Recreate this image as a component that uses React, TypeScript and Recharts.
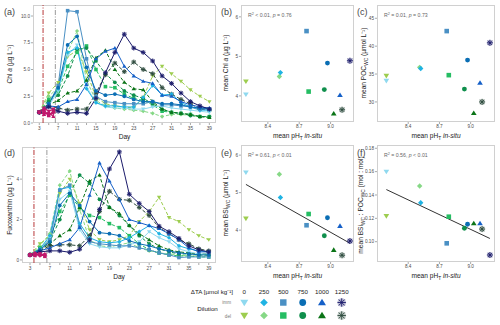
import React from 'react';
import { LineChart, Line, XAxis, YAxis, ScatterChart, Scatter, ReferenceLine } from 'recharts';

const FONT = '"Liberation Sans", Arial, Helvetica, sans-serif';
const TICK_FILL = '#4d4d4d';
const TITLE_FILL = '#1a1a1a';
const MAGENTA = '#c0186c';
const TICK_FONT = 4.7;

// Sampling days of the experiment and the labelled ticks
const DAYS = [3, 5, 7, 9, 11, 13, 15, 17, 19, 21, 23, 25, 27, 29, 31, 33, 35, 37, 39];
const DAY_TICKS = DAYS;
const PRE_DAYS = [3, 4, 5, 6];
const ALK_DAY = 3.8;
const DILUTION_DAY = 6.4;

// Treatment levels, colours and symbols
const TA_LEVELS = ['0', '250', '500', '750', '1000', '1250'];
const COL_IMM = ['#8fd9ef', '#1fb3e3', '#4a90c4', '#0a6eb4', '#1560c8', '#1b1b6b'];
const COL_DEL = ['#9dcd4f', '#86d886', '#25bd63', '#0f8f4c', '#0b7417', '#2b4a3c'];
type Kind = 'triDown' | 'diamond' | 'square' | 'circle' | 'triUp' | 'star';
const SHAPES: Kind[] = ['triDown', 'diamond', 'square', 'circle', 'triUp', 'star'];

// Chl a (µg L-1), immediate dilution
const chlImm0 = [1.0, 1.6, 3.0, 6.3, 7.3, 3.4, 1.9, 1.5, 1.4, 1.4, 1.3, 1.3, 1.5, 1.6, 1.4, 1.3, 1.2, 1.1, 1.0];
const chlImm250 = [1.0, 1.8, 3.2, 6.6, 7.0, 3.2, 1.9, 1.6, 1.6, 1.5, 1.5, 2.4, 3.5, 2.6, 2.7, 1.9, 1.5, 1.2, 1.2];
const chlImm500 = [1.0, 1.8, 3.5, 10.5, 10.4, 6.0, 2.5, 2.0, 1.9, 1.8, 1.8, 1.8, 2.0, 1.7, 1.7, 1.6, 1.5, 1.3, 1.3];
const chlImm750 = [1.0, 1.8, 3.3, 7.3, 8.1, 5.2, 3.0, 2.6, 2.7, 2.5, 2.2, 2.0, 2.0, 1.8, 1.8, 1.7, 1.5, 1.4, 1.3];
const chlImm1000 = [1.0, 1.6, 1.5, 2.0, 2.2, 3.6, 6.0, 6.7, 7.0, 5.3, 4.4, 3.9, 3.7, 2.6, 2.5, 2.0, 1.7, 1.5, 1.4];
const chlImm1250 = [1.0, 1.5, 1.1, 0.9, 1.0, 0.9, 2.3, 4.7, 6.6, 8.3, 7.0, 6.6, 5.8, 4.4, 3.7, 2.8, 2.0, 1.6, 1.3];
// Chl a (µg L-1), delayed dilution
const chlDel0 = [1.0, 2.8, 3.8, 6.2, 6.8, 4.8, 2.4, 1.8, 1.6, 1.5, 1.4, 2.4, 4.4, 5.3, 4.6, 3.9, 3.1, 2.5, 2.0];
const chlDel250 = [1.0, 2.5, 3.3, 6.6, 8.6, 4.0, 2.1, 1.6, 1.4, 1.3, 1.2, 1.1, 0.9, 0.6, 0.8, 0.8, 0.7, 0.6, 0.6];
const chlDel500 = [1.0, 2.2, 3.0, 5.3, 6.6, 7.2, 5.0, 3.4, 3.3, 2.7, 2.3, 2.1, 1.7, 1.1, 1.0, 0.9, 0.8, 0.6, 0.6];
const chlDel750 = [1.0, 2.0, 2.6, 4.4, 6.9, 7.0, 5.8, 4.6, 3.8, 3.0, 2.6, 2.3, 1.8, 1.3, 1.0, 0.9, 0.7, 0.6, 0.6];
const chlDel1000 = [1.0, 1.7, 2.1, 2.8, 3.0, 4.0, 6.1, 6.8, 5.0, 3.8, 3.2, 3.1, 2.0, 1.3, 1.0, 0.9, 0.8, 0.6, 0.5];
const chlDel1250 = [1.0, 1.6, 1.4, 1.2, 1.3, 1.3, 2.8, 4.5, 5.6, 4.8, 5.7, 5.0, 4.6, 3.3, 2.7, 2.2, 1.8, 1.3, 1.2];
// Chl a before dilution
const chlPre1 = [1.0, 0.9, 0.8, 0.9];
const chlPre2 = [1.0, 1.2, 0.7, 1.1];
const chlPre3 = [1.0, 0.8, 1.0, 0.6];
const chlPre4 = [1.0, 1.4, 1.1, 1.3];

// Fucoxanthin (µg L-1), immediate dilution
const fucoImm0 = [0.25, 0.5, 1.1, 3.0, 3.4, 1.5, 0.8, 0.65, 0.6, 0.6, 0.75, 0.9, 1.4, 1.1, 0.9, 0.55, 0.4, 0.3, 0.3];
const fucoImm250 = [0.25, 0.55, 1.2, 3.5, 3.6, 1.8, 1.1, 0.9, 0.85, 0.9, 1.1, 1.4, 1.7, 1.3, 1.1, 0.7, 0.55, 0.45, 0.4];
const fucoImm500 = [0.25, 0.5, 1.0, 3.45, 3.7, 1.65, 0.9, 0.8, 0.75, 0.7, 0.7, 0.6, 0.5, 0.35, 0.25, 0.12, 0.15, 0.15, 0.15];
const fucoImm750 = [0.25, 0.5, 0.9, 2.7, 3.3, 2.7, 1.9, 1.35, 1.3, 1.2, 0.95, 0.8, 0.7, 0.55, 0.45, 0.35, 0.3, 0.25, 0.25];
const fucoImm1000 = [0.25, 0.45, 0.6, 0.8, 1.0, 1.6, 3.2, 4.8, 3.9, 3.0, 2.0, 1.85, 1.7, 1.55, 1.3, 1.0, 0.6, 0.4, 0.4];
const fucoImm1250 = [0.25, 0.4, 0.45, 0.45, 0.38, 0.53, 1.0, 2.5, 4.5, 5.35, 3.25, 2.8, 2.4, 1.67, 1.4, 1.07, 0.7, 0.5, 0.4];
// Fucoxanthin (µg L-1), delayed dilution
const fucoDel0 = [0.25, 0.8, 1.2, 3.3, 4.0, 2.8, 1.5, 1.0, 0.9, 1.0, 1.2, 1.9, 2.4, 3.1, 2.1, 1.9, 1.5, 1.2, 1.0];
const fucoDel250 = [0.25, 0.7, 1.3, 3.7, 4.4, 2.5, 1.0, 0.7, 0.65, 0.75, 0.85, 0.6, 0.45, 0.35, 0.3, 0.25, 0.2, 0.2, 0.2];
const fucoDel500 = [0.25, 0.6, 1.0, 2.4, 3.2, 2.6, 2.2, 2.1, 1.8, 1.6, 1.2, 0.8, 0.5, 0.35, 0.25, 0.2, 0.2, 0.15, 0.15];
const fucoDel750 = [0.25, 0.55, 0.9, 2.0, 3.3, 4.2, 3.8, 3.0, 2.6, 2.2, 1.7, 1.2, 0.8, 0.55, 0.4, 0.3, 0.3, 0.25, 0.25];
const fucoDel1000 = [0.25, 0.5, 0.8, 1.2, 1.5, 2.6, 3.9, 4.2, 2.6, 2.3, 1.7, 1.3, 1.0, 0.7, 0.5, 0.4, 0.35, 0.3, 0.3];
const fucoDel1250 = [0.25, 0.45, 0.7, 0.75, 0.75, 0.7, 1.2, 2.4, 3.4, 3.0, 2.95, 2.6, 2.2, 1.6, 1.3, 1.0, 0.8, 0.55, 0.45];
// Fucoxanthin before dilution
const fucoPre1 = [0.25, 0.3, 0.2, 0.25];
const fucoPre2 = [0.25, 0.22, 0.3, 0.18];
const fucoPre3 = [0.25, 0.35, 0.25, 0.3];

// Treatment means (order: 0, 250, 500, 750, 1000, 1250 µmol kg-1)
const PH_IMM = [8.19, 8.52, 8.77, 8.97, 9.09, 9.185];
const PH_DEL = [8.19, 8.51, 8.79, 8.94, 9.03, 9.11];
const CHL_IMM = [4.04, 4.59, 5.64, 4.83, 4.02, 4.89];
const CHL_DEL = [4.37, 4.49, 4.11, 4.16, 3.55, 3.65];
const POC_IMM = [33.8, 36.0, 42.7, 37.5, 33.4, 40.6];
const POC_DEL = [34.7, 36.2, 34.8, 32.3, 28.0, 30.0];
const BSI_IMM = [5.54, 4.87, 4.13, 4.33, 4.11, 3.71];
const BSI_DEL = [4.31, 5.49, 4.43, 3.85, 3.47, 3.33];
const RATIO_IMM = [0.16, 0.1334, 0.0986, 0.1149, 0.1157, 0.0886];
const RATIO_DEL = [0.122, 0.1477, 0.1214, 0.1115, 0.1157, 0.1108];
const PH_TICKS = [8.4, 8.7, 9.0];

type Box = { x: number; y: number; w: number; h: number };
const BOX_A: Box = { x: 33, y: 5, w: 183, h: 118 };
const BOX_B: Box = { x: 241, y: 5, w: 113, h: 117 };
const BOX_C: Box = { x: 377, y: 5, w: 118, h: 117 };
const BOX_D: Box = { x: 22, y: 147, w: 194, h: 116 };
const BOX_E: Box = { x: 241, y: 145, w: 113, h: 117 };
const BOX_F: Box = { x: 377, y: 145, w: 118, h: 117 };

function Marker({ kind, cx, cy, s, color }: { kind: Kind; cx: number; cy: number; s: number; color: string }) {
  switch (kind) {
    case 'triDown':
      return <polygon points={`${cx - s * 1.05},${cy - s * 0.7} ${cx + s * 1.05},${cy - s * 0.7} ${cx},${cy + s * 1.0}`} fill={color} />;
    case 'triUp':
      return <polygon points={`${cx - s * 1.05},${cy + s * 0.7} ${cx + s * 1.05},${cy + s * 0.7} ${cx},${cy - s * 1.0}`} fill={color} />;
    case 'diamond':
      return <polygon points={`${cx},${cy - s} ${cx + s},${cy} ${cx},${cy + s} ${cx - s},${cy}`} fill={color} />;
    case 'square':
      return <rect x={cx - s * 0.85} y={cy - s * 0.85} width={s * 1.7} height={s * 1.7} fill={color} />;
    case 'circle':
      return <circle cx={cx} cy={cy} r={s * 0.9} fill={color} />;
    case 'star': {
      const r = s * 1.1;
      const rays = [0, 45, 90, 135].map((a) => {
        const dx = Math.cos((a * Math.PI) / 180) * r;
        const dy = Math.sin((a * Math.PI) / 180) * r;
        return `M${cx - dx},${cy - dy}L${cx + dx},${cy + dy}`;
      });
      return (
        <g>
          <circle cx={cx} cy={cy} r={s * 1.15} fill={color} opacity={0.3} />
          <path d={rays.join('')} stroke={color} strokeWidth={0.9} fill="none" />
        </g>
      );
    }
  }
  return null;
}

const toRows = (xs: number[], ys: number[]) => xs.map((x, i) => ({ day: x, v: ys[i] }));

const DayTick = (p: any) => {
  const v = p.payload.value;
  if ((v - 3) % 4 !== 0) return <g />;
  return (
    <text x={p.x} y={p.y} dy={4} textAnchor="middle" fontSize={TICK_FONT} fill={TICK_FILL} fontFamily={FONT}>
      {v}
    </text>
  );
};

const tickLineStyle = { stroke: '#555', strokeWidth: 0.5 };
const tickTextStyle = { fontSize: TICK_FONT, fill: TICK_FILL, fontFamily: FONT };

function TimePanel(props: {
  box: Box;
  xDomain: [number, number];
  yDomain: [number, number];
  yTicks: number[];
  yFmt: (v: number) => string;
  imm: number[][];
  del: number[][];
  pre: number[][];
}) {
  const { box, xDomain, yDomain, yTicks, yFmt, imm, del, pre } = props;
  const yw = box.x;
  const xh = 16;
  const dot = (i: number, col: string) => (p: any) => (
    <g key={`d${i}-${p.index}`}>
      <Marker kind={SHAPES[i]} cx={p.cx} cy={p.cy} s={2.1} color={col} />
    </g>
  );
  return (
    <div style={{ position: 'absolute', left: 0, top: box.y }}>
      <LineChart width={yw + box.w} height={box.h + xh} margin={{ top: 0, right: 0, bottom: 0, left: 0 }}>
        <XAxis
          type="number"
          dataKey="day"
          domain={xDomain}
          ticks={DAY_TICKS}
          interval={0}
          tick={DayTick}
          tickSize={2}
          tickMargin={1}
          axisLine={false}
          tickLine={tickLineStyle}
          height={xh}
          allowDataOverflow
        />
        <YAxis
          type="number"
          domain={yDomain}
          ticks={yTicks}
          tickFormatter={yFmt}
          width={yw}
          tickSize={2}
          tickMargin={1}
          axisLine={false}
          tickLine={tickLineStyle}
          tick={tickTextStyle}
          allowDataOverflow
        />
        <ReferenceLine x={ALK_DAY} stroke="#b8383a" strokeWidth={1} strokeDasharray="5 1.5 1 1.5" />
        <ReferenceLine x={DILUTION_DAY} stroke="#9a9a9a" strokeWidth={1} strokeDasharray="5 1.5 1 1.5" />
        {del.map((vals, i) => (
          <Line
            key={`del${i}`}
            data={toRows(DAYS, vals)}
            dataKey="v"
            type="linear"
            stroke={COL_DEL[i]}
            strokeWidth={1}
            strokeDasharray="3.5 2"
            dot={dot(i, COL_DEL[i])}
            activeDot={false}
            isAnimationActive={false}
          />
        ))}
        {imm.map((vals, i) => (
          <Line
            key={`imm${i}`}
            data={toRows(DAYS, vals)}
            dataKey="v"
            type="linear"
            stroke={COL_IMM[i]}
            strokeWidth={1}
            dot={dot(i, COL_IMM[i])}
            activeDot={false}
            isAnimationActive={false}
          />
        ))}
        {pre.map((vals, i) => (
          <Line
            key={`pre${i}`}
            data={toRows(PRE_DAYS, vals)}
            dataKey="v"
            type="linear"
            stroke={MAGENTA}
            strokeWidth={1.2}
            dot={(p: any) => (
              <g key={`pm${i}-${p.index}`}>
                <Marker kind={SHAPES[(i * 2) % 6]} cx={p.cx} cy={p.cy} s={2.1} color={MAGENTA} />
              </g>
            )}
            activeDot={false}
            isAnimationActive={false}
          />
        ))}
      </LineChart>
    </div>
  );
}

function fitSegment(xs: number[], ys: number[]) {
  const n = xs.length;
  const mx = xs.reduce((a, b) => a + b, 0) / n;
  const my = ys.reduce((a, b) => a + b, 0) / n;
  let sxy = 0;
  let sxx = 0;
  xs.forEach((x, i) => {
    sxy += (x - mx) * (ys[i] - my);
    sxx += (x - mx) * (x - mx);
  });
  const slope = sxy / sxx;
  const x0 = Math.min(...xs);
  const x1 = Math.max(...xs);
  return [
    { x: x0, y: my + slope * (x0 - mx) },
    { x: x1, y: my + slope * (x1 - mx) },
  ];
}

function ScatterPanel(props: {
  box: Box;
  yw: number;
  xDomain: [number, number];
  yDomain: [number, number];
  yTicks: number[];
  yFmt: (v: number) => string;
  imm: number[];
  del: number[];
  fit: boolean;
}) {
  const { box, yw, xDomain, yDomain, yTicks, yFmt, imm, del, fit } = props;
  const xh = 16;
  const allX = [...PH_IMM, ...PH_DEL];
  const allY = [...imm, ...del];
  const seg = fitSegment(allX, allY);
  const pts: { x: number; y: number; col: string; kind: Kind }[] = [];
  PH_DEL.forEach((x, i) => pts.push({ x, y: del[i], col: COL_DEL[i], kind: SHAPES[i] }));
  PH_IMM.forEach((x, i) => pts.push({ x, y: imm[i], col: COL_IMM[i], kind: SHAPES[i] }));
  return (
    <div style={{ position: 'absolute', left: box.x - yw, top: box.y }}>
      <ScatterChart width={yw + box.w} height={box.h + xh} margin={{ top: 0, right: 0, bottom: 0, left: 0 }}>
        <XAxis
          type="number"
          dataKey="x"
          domain={xDomain}
          ticks={PH_TICKS}
          tickFormatter={(v: number) => v.toFixed(1)}
          tickSize={2}
          tickMargin={1}
          axisLine={false}
          tickLine={tickLineStyle}
          tick={tickTextStyle}
          height={xh}
          allowDataOverflow
        />
        <YAxis
          type="number"
          dataKey="y"
          domain={yDomain}
          ticks={yTicks}
          tickFormatter={yFmt}
          width={yw}
          tickSize={2}
          tickMargin={1}
          axisLine={false}
          tickLine={tickLineStyle}
          tick={tickTextStyle}
          allowDataOverflow
        />
        {fit && <ReferenceLine segment={seg} stroke="#333" strokeWidth={1} ifOverflow="visible" />}
        {pts.map((p, i) => (
          <Scatter
            key={i}
            data={[{ x: p.x, y: p.y }]}
            isAnimationActive={false}
            shape={(sp: any) => <Marker kind={p.kind} cx={sp.cx} cy={sp.cy} s={2.7} color={p.col} />}
          />
        ))}
      </ScatterChart>
    </div>
  );
}

const Frame = ({ b }: { b: Box }) => (
  <rect x={b.x + 0.5} y={b.y + 0.5} width={b.w - 1} height={b.h - 1} fill="#fff" stroke="#d0d0d0" strokeWidth={1} />
);

const Stat = ({ b, r, p }: { b: Box; r: string; p: string }) => (
  <text x={b.x + 7} y={b.y + 11.5} fontSize={5.2} fill="#666" fontFamily={FONT}>
    R<tspan dy={-2} fontSize={3.8}>2</tspan>
    <tspan dy={2}>{` ${r}, `}</tspan>
    <tspan fontStyle="italic">p</tspan>
    {` ${p}`}
  </text>
);

const PhTitle = ({ cx, y }: { cx: number; y: number }) => (
  <text x={cx} y={y} fontSize={6.6} fill={TITLE_FILL} fontFamily={FONT} textAnchor="middle">
    mean pH<tspan dy={1.6} fontSize={4.8}>T</tspan>
    <tspan dy={-1.6}> </tspan>
    <tspan fontStyle="italic">in-situ</tspan>
  </text>
);

const YTitle = ({ x, cy, children }: { x: number; cy: number; children: React.ReactNode }) => (
  <text
    x={0}
    y={0}
    transform={`translate(${x},${cy}) rotate(-90)`}
    fontSize={6.6}
    fill={TITLE_FILL}
    fontFamily={FONT}
    textAnchor="middle"
  >
    {children}
  </text>
);

const PanelTag = ({ x, y, t }: { x: number; y: number; t: string }) => (
  <text x={x} y={y} fontSize={9} fill="#444" fontFamily={FONT}>
    {t}
  </text>
);

const LEG_X = [244.3, 264, 283.3, 302.7, 322, 341.7];

export default function App() {
  const fmt1 = (v: number) => v.toFixed(1);
  const fmt0 = (v: number) => `${v}`;
  const fmt2 = (v: number) => v.toFixed(2);
  return (
    <div
      style={{
        position: 'fixed',
        left: 0,
        top: 0,
        width: 500,
        height: 325,
        background: '#fff',
        overflow: 'hidden',
        fontFamily: FONT,
      }}
    >
      <svg width={500} height={325} style={{ position: 'absolute', left: 0, top: 0 }}>
        {[BOX_A, BOX_B, BOX_C, BOX_D, BOX_E, BOX_F].map((b, i) => (
          <Frame key={i} b={b} />
        ))}
      </svg>

      <TimePanel
        box={BOX_A}
        xDomain={[1.67, 40.41]}
        yDomain={[0, 11.03]}
        yTicks={[0, 2.5, 5, 7.5, 10]}
        yFmt={fmt1}
        imm={[chlImm0, chlImm250, chlImm500, chlImm750, chlImm1000, chlImm1250]}
        del={[chlDel0, chlDel250, chlDel500, chlDel750, chlDel1000, chlDel1250]}
        pre={[chlPre1, chlPre2, chlPre3, chlPre4]}
      />
      <TimePanel
        box={BOX_D}
        xDomain={[1.39, 40.46]}
        yDomain={[-0.15, 5.59]}
        yTicks={[0, 2, 4]}
        yFmt={fmt0}
        imm={[fucoImm0, fucoImm250, fucoImm500, fucoImm750, fucoImm1000, fucoImm1250]}
        del={[fucoDel0, fucoDel250, fucoDel500, fucoDel750, fucoDel1000, fucoDel1250]}
        pre={[fucoPre1, fucoPre2, fucoPre3]}
      />

      <ScatterPanel box={BOX_B} yw={12} xDomain={[8.143, 9.224]} yDomain={[3.34, 6.3]} yTicks={[4, 5, 6]} yFmt={fmt0} imm={CHL_IMM} del={CHL_DEL} fit={false} />
      <ScatterPanel box={BOX_C} yw={12} xDomain={[8.1, 9.234]} yDomain={[26.4, 47.38]} yTicks={[30, 35, 40, 45]} yFmt={fmt0} imm={POC_IMM} del={POC_DEL} fit={false} />
      <ScatterPanel box={BOX_E} yw={12} xDomain={[8.143, 9.224]} yDomain={[3.15, 6.27]} yTicks={[4, 5, 6]} yFmt={fmt0} imm={BSI_IMM} del={BSI_DEL} fit={true} />
      <ScatterPanel box={BOX_F} yw={12} xDomain={[8.1, 9.234]} yDomain={[0.0826, 0.1828]} yTicks={[0.1, 0.12, 0.14, 0.16, 0.18]} yFmt={fmt2} imm={RATIO_IMM} del={RATIO_DEL} fit={true} />

      <svg width={500} height={325} style={{ position: 'absolute', left: 0, top: 0, pointerEvents: 'none' }}>
        <PanelTag x={4} y={15} t="(a)" />
        <PanelTag x={221} y={15} t="(b)" />
        <PanelTag x={357} y={15} t="(c)" />
        <PanelTag x={4} y={156} t="(d)" />
        <PanelTag x={221} y={156} t="(e)" />
        <PanelTag x={357} y={156} t="(f)" />

        <Stat b={BOX_B} r="< 0.01" p="= 0.76" />
        <Stat b={BOX_C} r="= 0.01" p="= 0.73" />
        <Stat b={BOX_E} r="= 0.61" p="< 0.01" />
        <Stat b={BOX_F} r="= 0.56" p="< 0.01" />

        <text x={124.5} y={139} fontSize={6.6} fill={TITLE_FILL} fontFamily={FONT} textAnchor="middle">Day</text>
        <text x={119} y={279} fontSize={6.6} fill={TITLE_FILL} fontFamily={FONT} textAnchor="middle">Day</text>
        <PhTitle cx={297.5} y={138} />
        <PhTitle cx={436} y={138} />
        <PhTitle cx={297.5} y={278} />
        <PhTitle cx={436} y={278} />

        <YTitle x={12} cy={64}>
          Chl <tspan fontStyle="italic">a</tspan> (µg L⁻¹)
        </YTitle>
        <YTitle x={12} cy={205}>
          Fucoxanthin (µg L⁻¹)
        </YTitle>
        <YTitle x={228} cy={63}>
          mean Chl <tspan fontStyle="italic">a</tspan> (µg L⁻¹)
        </YTitle>
        <YTitle x={366} cy={63}>
          mean POC<tspan dy={1.6} fontSize={4.8}>WC</tspan>
          <tspan dy={-1.6}> (µmol L⁻¹)</tspan>
        </YTitle>
        <YTitle x={228} cy={203}>
          mean BSi<tspan dy={1.6} fontSize={4.8}>WC</tspan>
          <tspan dy={-1.6}> (µmol L⁻¹)</tspan>
        </YTitle>
        <YTitle x={363} cy={205}>
          mean BSi<tspan dy={1.6} fontSize={4.8}>WC</tspan>
          <tspan dy={-1.6}> : POC</tspan>
          <tspan dy={1.6} fontSize={4.8}>WC</tspan>
          <tspan dy={-1.6}> (mol : mol)</tspan>
        </YTitle>

        {/* treatment legend */}
        <text x={233} y={294} fontSize={6.2} fill={TITLE_FILL} fontFamily={FONT} textAnchor="end">ΔTA [µmol kg⁻¹]</text>
        {TA_LEVELS.map((t, i) => (
          <text key={t} x={LEG_X[i]} y={294} fontSize={6.2} fill={TITLE_FILL} fontFamily={FONT} textAnchor="middle">
            {t}
          </text>
        ))}
        <text x={207.5} y={311} fontSize={6.2} fill={TITLE_FILL} fontFamily={FONT} textAnchor="middle">Dilution</text>
        <text x={231} y={304} fontSize={4.6} fill="#777" fontFamily={FONT} textAnchor="end">imm</text>
        <text x={231} y={317.5} fontSize={4.6} fill="#777" fontFamily={FONT} textAnchor="end">del</text>
        {TA_LEVELS.map((t, i) => (
          <g key={`li${t}`}>
            <Marker kind={SHAPES[i]} cx={LEG_X[i]} cy={302.5} s={3.8} color={COL_IMM[i]} />
            <Marker kind={SHAPES[i]} cx={LEG_X[i]} cy={315.5} s={3.8} color={COL_DEL[i]} />
          </g>
        ))}
      </svg>
    </div>
  );
}
